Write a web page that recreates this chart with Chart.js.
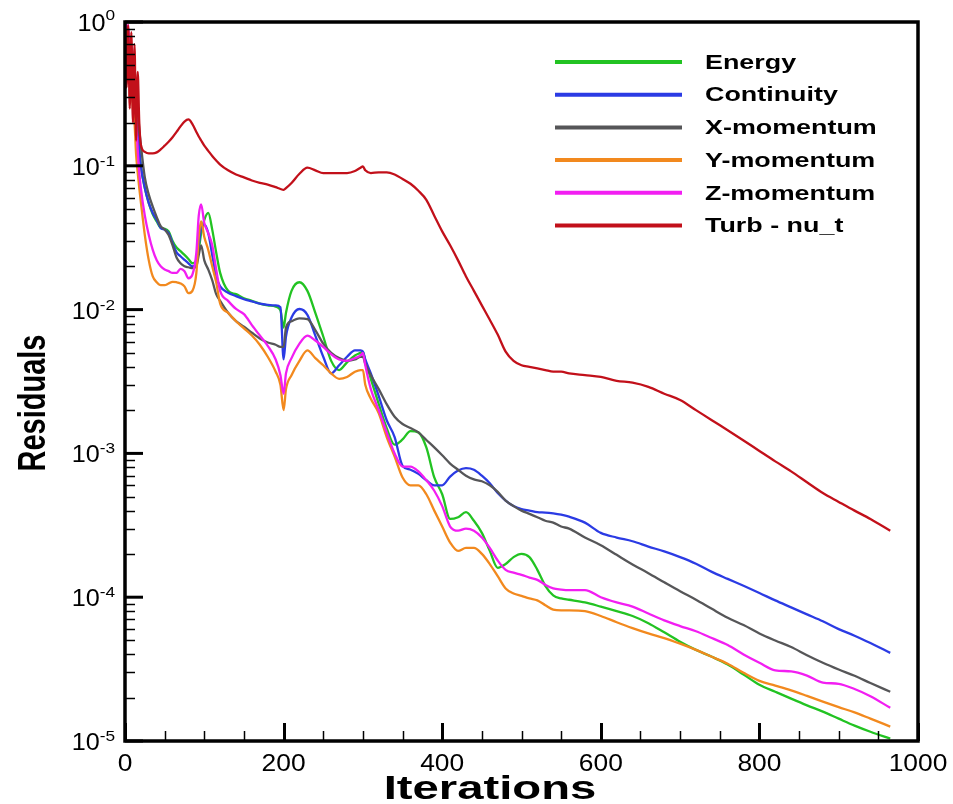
<!DOCTYPE html>
<html>
<head>
<meta charset="utf-8">
<title>Residuals</title>
<style>
  html, body { margin: 0; padding: 0; background: #ffffff; }
  #box { width: 953px; height: 804px; }
</style>
</head>
<body>
<div id="box"><canvas id="residuals" width="953" height="804"></canvas></div>

<script src="https://cdn.jsdelivr.net/npm/chart.js@4.4.0/dist/chart.umd.min.js"></script>
<script>
// solver iterations (shared x values for every residual curve)
var iterations = [0, 2, 4, 6, 8, 10, 12, 14, 16, 18, 20,
  25, 30, 35, 40, 45, 50, 55, 60, 65, 70, 75, 80, 85, 90, 93, 96,
  100, 105, 110, 115, 120, 130, 140, 150, 160, 170, 180, 190, 196, 200, 203,
  210, 220, 230, 240, 250, 260, 270, 280, 290, 297, 300, 303,
  310, 320, 330, 340, 350, 360, 370, 380, 390, 400, 410, 420, 430, 440, 450,
  460, 470, 480, 490, 500, 510, 520, 530, 540, 550, 560,
  580, 600, 620, 640, 660, 680, 700, 720, 740, 760, 780, 800, 820, 840, 860,
  880, 900, 920, 940, 965];

var energy = [1.0, 0.75, 0.85, 0.5, 0.6, 0.38, 0.32, 0.23, 0.18, 0.13, 0.1,
  0.07, 0.055, 0.046, 0.041, 0.037, 0.0365, 0.035, 0.03, 0.027, 0.0255, 0.024, 0.0225, 0.021, 0.022, 0.026, 0.034,
  0.042, 0.047, 0.036, 0.025, 0.018, 0.0135, 0.0128, 0.012, 0.0115, 0.011, 0.0107, 0.0105, 0.0099, 0.0075, 0.0095,
  0.0135, 0.0155, 0.0135, 0.0095, 0.0065, 0.0044, 0.0038, 0.0043, 0.0048, 0.005, 0.0051, 0.0044,
  0.0033, 0.0022, 0.0015, 0.00115, 0.00125, 0.00143, 0.0014, 0.0011, 0.00068, 0.00052, 0.00035, 0.00036, 0.00039, 0.00034, 0.00028,
  0.00021, 0.00016, 0.00017, 0.00019, 0.0002, 0.00019, 0.000155, 0.00012, 0.000103, 9.8e-5, 9.6e-5,
  9.2e-5, 8.6e-5, 8.0e-5, 7.4e-5, 6.6e-5, 5.7e-5, 4.9e-5, 4.3e-5, 3.85e-5, 3.4e-5, 2.9e-5, 2.46e-5, 2.2e-5, 1.97e-5, 1.77e-5,
  1.6e-5, 1.43e-5, 1.28e-5, 1.16e-5, 1.04e-5];

var continuity = [1.0, 0.7, 0.85, 0.5, 0.55, 0.35, 0.3, 0.22, 0.17, 0.13, 0.1,
  0.07, 0.055, 0.047, 0.042, 0.037, 0.036, 0.034, 0.029, 0.025, 0.0235, 0.0222, 0.021, 0.02, 0.021, 0.028, 0.037,
  0.039, 0.034, 0.024, 0.017, 0.0145, 0.0131, 0.0124, 0.0118, 0.0114, 0.011, 0.0108, 0.0107, 0.0104, 0.0045, 0.0065,
  0.0088, 0.0101, 0.0092, 0.0066, 0.0047, 0.0036, 0.0041, 0.0047, 0.0052, 0.0052, 0.0051, 0.0045,
  0.0036, 0.0025, 0.0017, 0.0013, 0.00082, 0.00077, 0.00072, 0.00065, 0.0006, 0.0006, 0.00069, 0.00076, 0.00079, 0.00077, 0.0007,
  0.00062, 0.00053, 0.00047, 0.00043, 0.00041, 0.0004, 0.00039, 0.000388, 0.000383, 0.000375, 0.000363,
  0.00033, 0.00028, 0.00026, 0.000245, 0.000225, 0.000208, 0.00019, 0.000171, 0.00015, 0.000134, 0.00012, 0.000107, 9.5e-5, 8.5e-5, 7.6e-5,
  6.8e-5, 6.0e-5, 5.4e-5, 4.8e-5, 4.1e-5];

var xMomentum = [1.0, 0.8, 0.9, 0.6, 0.7, 0.45, 0.4, 0.3, 0.25, 0.18, 0.14,
  0.083, 0.063, 0.052, 0.044, 0.038, 0.036, 0.033, 0.028, 0.023, 0.021, 0.02, 0.0197, 0.0194, 0.02, 0.024, 0.028,
  0.022, 0.019, 0.016, 0.0128, 0.0115, 0.0095, 0.0083, 0.0076, 0.0069, 0.0063, 0.0059, 0.0057, 0.0055, 0.0055, 0.0075,
  0.0083, 0.0087, 0.0086, 0.0072, 0.0058, 0.005, 0.0046, 0.0044, 0.0045, 0.0047, 0.0047, 0.0042,
  0.0035, 0.0028, 0.0022, 0.0018, 0.0016, 0.0015, 0.0014, 0.00124, 0.0011, 0.00097, 0.00085, 0.00077, 0.0007, 0.00066, 0.00064,
  0.0006, 0.00054, 0.00047, 0.00043, 0.0004, 0.00038, 0.00036, 0.00034, 0.00033, 0.00031, 0.0003,
  0.00026, 0.00023, 0.000197, 0.000169, 0.000147, 0.000127, 0.00011, 9.6e-5, 8.3e-5, 7.2e-5, 6.4e-5, 5.6e-5, 5.0e-5, 4.5e-5, 3.95e-5,
  3.5e-5, 3.14e-5, 2.84e-5, 2.53e-5, 2.2e-5];

var yMomentum = [1.0, 0.6, 0.7, 0.4, 0.45, 0.25, 0.2, 0.12, 0.09, 0.07, 0.056,
  0.033, 0.022, 0.017, 0.0155, 0.0148, 0.0148, 0.0152, 0.0156, 0.0155, 0.0152, 0.0145, 0.013, 0.0135, 0.018, 0.032, 0.041,
  0.032, 0.026, 0.02, 0.0155, 0.011, 0.0095, 0.0083, 0.0074, 0.0066, 0.0057, 0.0047, 0.0037, 0.003, 0.002, 0.0028,
  0.0035, 0.0044, 0.0052, 0.0046, 0.0041, 0.0036, 0.0033, 0.0034, 0.0037, 0.0038, 0.0038, 0.003,
  0.0024, 0.0019, 0.0013, 0.00095, 0.00068, 0.0006, 0.0006, 0.00052, 0.0004, 0.00031, 0.00024, 0.00021, 0.00022, 0.00022, 0.0002,
  0.00017, 0.00014, 0.000115, 0.000106, 0.000102, 9.8e-5, 9.5e-5, 8.8e-5, 8.2e-5, 8.1e-5, 8.1e-5,
  8.0e-5, 7.4e-5, 6.7e-5, 6.1e-5, 5.6e-5, 5.2e-5, 4.75e-5, 4.3e-5, 3.85e-5, 3.45e-5, 2.98e-5, 2.62e-5, 2.43e-5, 2.25e-5, 2.06e-5,
  1.88e-5, 1.72e-5, 1.58e-5, 1.43e-5, 1.26e-5];

var zMomentum = [1.0, 0.9, 0.95, 0.6, 0.7, 0.4, 0.35, 0.22, 0.13, 0.09, 0.07,
  0.045, 0.033, 0.026, 0.022, 0.02, 0.019, 0.0185, 0.018, 0.018, 0.0192, 0.0185, 0.0165, 0.0175, 0.025, 0.045, 0.054,
  0.04, 0.034, 0.028, 0.019, 0.0135, 0.0115, 0.0101, 0.0093, 0.0078, 0.0066, 0.0056, 0.0045, 0.0035, 0.0026, 0.0036,
  0.0046, 0.0058, 0.0066, 0.0061, 0.0055, 0.0049, 0.0045, 0.0044, 0.0046, 0.0048, 0.005, 0.0041,
  0.0028, 0.002, 0.0014, 0.001, 0.00081, 0.00081, 0.00075, 0.00065, 0.00055, 0.00043, 0.00031, 0.00029, 0.0003, 0.00029, 0.00026,
  0.00022, 0.00018, 0.000155, 0.000148, 0.000143, 0.000137, 0.000132, 0.000122, 0.000115, 0.000113, 0.000112,
  0.000112, 0.0001, 9.2e-5, 8.6e-5, 7.7e-5, 6.9e-5, 6.3e-5, 5.8e-5, 5.2e-5, 4.65e-5, 4.0e-5, 3.5e-5, 3.1e-5, 3.05e-5, 2.85e-5,
  2.55e-5, 2.5e-5, 2.3e-5, 2.05e-5, 1.7e-5];

var turbNuT = [1.0, 0.35, 0.95, 0.25, 0.85, 0.2, 0.7, 0.15, 0.45, 0.2, 0.14,
  0.125, 0.122, 0.122, 0.124, 0.13, 0.138, 0.147, 0.158, 0.172, 0.188, 0.203, 0.21, 0.195, 0.172, 0.16, 0.15,
  0.138, 0.127, 0.117, 0.109, 0.102, 0.093, 0.087, 0.083, 0.079, 0.076, 0.074, 0.071, 0.069, 0.068, 0.07,
  0.076, 0.088, 0.097, 0.093, 0.089, 0.089, 0.089, 0.089, 0.092, 0.097, 0.099, 0.093,
  0.089, 0.09, 0.09, 0.087, 0.081, 0.075, 0.067, 0.058, 0.045, 0.035, 0.028, 0.022, 0.017, 0.0135, 0.0107,
  0.0085, 0.0067, 0.0051, 0.0044, 0.0041, 0.004, 0.0039, 0.0038, 0.0037, 0.0037, 0.0036,
  0.0035, 0.0034, 0.0032, 0.0031, 0.0029, 0.0026, 0.00235, 0.002, 0.0017, 0.00145, 0.00123, 0.00104, 0.00088, 0.00075, 0.00063,
  0.00053, 0.00046, 0.0004, 0.00035, 0.00029];

var seriesNames = ['Energy', 'Continuity', 'X-momentum', 'Y-momentum', 'Z-momentum', 'Turb - nu_t'];
var seriesColors = ['#22c322', '#2b3be4', '#565658', '#f2891e', '#f21ef2', '#c2101a'];
var seriesValues = [energy, continuity, xMomentum, yMomentum, zMomentum, turbNuT];

var xTicks = [0, 200, 400, 600, 800, 1000];
var xMinorStep = 50;
var decades = [0, -1, -2, -3, -4, -5];

var FONT = "'Liberation Sans', Arial, Helvetica, sans-serif";

function toPoints(values) {
  return iterations.map(function (it, i) { return { x: it, y: values[i] }; });
}

// text drawn wider than the font's normal width (sx = horizontal scale)
function wideText(ctx, text, x, y, sx, align) {
  var w = ctx.measureText(text).width * sx;
  var left = x;
  if (align === 'center') left = x - w / 2;
  if (align === 'right') left = x - w;
  ctx.save();
  ctx.translate(left, y);
  ctx.scale(sx, 1);
  ctx.textAlign = 'left';
  ctx.fillText(text, 0, 0);
  ctx.restore();
  return w;
}

var framePlugin = {
  id: 'frame',
  afterDraw: function (chart) {
    var ctx = chart.ctx;
    var a = chart.chartArea;
    var xs = chart.scales.x;
    var ys = chart.scales.y;

    ctx.save();
    ctx.strokeStyle = '#000';
    ctx.fillStyle = '#000';
    ctx.lineCap = 'butt';

    // inward ticks on the log axis: 2..9 in every decade, longer at the decades
    decades.forEach(function (d) {
      if (d <= -5) return;
      for (var m = 2; m <= 9; m++) {
        var yy = Math.round(ys.getPixelForValue(m * Math.pow(10, d - 1))) + 0.5;
        ctx.lineWidth = 1.5;
        ctx.beginPath();
        ctx.moveTo(a.left, yy);
        ctx.lineTo(a.left + 10, yy);
        ctx.stroke();
      }
    });
    decades.forEach(function (d) {
      var yy = ys.getPixelForValue(Math.pow(10, d));
      ctx.lineWidth = 3;
      ctx.beginPath();
      ctx.moveTo(a.left, yy);
      ctx.lineTo(a.left + 18, yy);
      ctx.stroke();
    });

    // inward ticks on the iteration axis
    for (var v = 0; v <= 1000; v += xMinorStep) {
      var xx = Math.round(xs.getPixelForValue(v)) + 0.5;
      var major = xTicks.indexOf(v) >= 0;
      ctx.lineWidth = major ? 3 : 1.5;
      ctx.beginPath();
      ctx.moveTo(xx, a.bottom);
      ctx.lineTo(xx, a.bottom - (major ? 18 : 10));
      ctx.stroke();
    }

    // frame
    ctx.lineWidth = 3.5;
    ctx.strokeRect(a.left, a.top, a.right - a.left, a.bottom - a.top);

    // tick labels
    ctx.textBaseline = 'alphabetic';
    ctx.font = '24px ' + FONT;
    xTicks.forEach(function (t) {
      wideText(ctx, String(t), xs.getPixelForValue(t), a.bottom + 30, 1.1, 'center');
    });

    decades.forEach(function (d) {
      var yy = ys.getPixelForValue(Math.pow(10, d));
      var exp = d === 0 ? '0' : '-' + (-d);
      var right = a.left - 10;
      ctx.font = '15px ' + FONT;
      var ew = wideText(ctx, exp, right, d === 0 ? yy - 2 : yy, 1.15, 'right');
      ctx.font = '24px ' + FONT;
      wideText(ctx, '10', right - ew, yy + 9, 1.05, 'right');
    });

    // axis titles
    ctx.font = 'bold 34px ' + FONT;
    wideText(ctx, 'Iterations', 490, 799, 1.39, 'center');

    ctx.font = 'bold 29px ' + FONT;
    ctx.save();
    ctx.translate(45, 403);
    ctx.rotate(-Math.PI / 2);
    ctx.scale(1, 1.35);
    ctx.textAlign = 'center';
    ctx.fillText('Residuals', 0, 0);
    ctx.restore();

    // legend
    ctx.font = 'bold 21px ' + FONT;
    ctx.textBaseline = 'middle';
    chart.data.datasets.forEach(function (ds, i) {
      var ly = 62 + i * 32.7;
      ctx.strokeStyle = ds.borderColor;
      ctx.lineWidth = 4;
      ctx.beginPath();
      ctx.moveTo(555, ly);
      ctx.lineTo(682, ly);
      ctx.stroke();
      ctx.fillStyle = '#000';
      wideText(ctx, ds.label, 705, ly + 1, 1.28, 'left');
    });

    ctx.restore();
  }
};

var chart = new Chart(document.getElementById('residuals'), {
  type: 'line',
  data: {
    datasets: seriesNames.map(function (name, i) {
      return {
        label: name,
        data: toPoints(seriesValues[i]),
        borderColor: seriesColors[i],
        backgroundColor: seriesColors[i],
        borderWidth: 2.3,
        pointRadius: 0,
        cubicInterpolationMode: 'monotone',
        fill: false,
        order: seriesNames.length - 1 - i
      };
    })
  },
  options: {
    responsive: false,
    animation: false,
    events: [],
    layout: { padding: { top: 22, right: 35, left: 0, bottom: 0 } },
    plugins: {
      legend: { display: false },
      tooltip: { enabled: false }
    },
    scales: {
      x: {
        type: 'linear',
        min: 0,
        max: 1000,
        grid: { display: false, drawTicks: false },
        border: { display: false },
        ticks: { display: false },
        afterFit: function (s) { s.height = 63; }
      },
      y: {
        type: 'logarithmic',
        min: 1e-5,
        max: 1,
        grid: { display: false, drawTicks: false },
        border: { display: false },
        ticks: { display: false },
        afterFit: function (s) { s.width = 125; }
      }
    }
  },
  plugins: [framePlugin]
});
</script>
</body>
</html>
